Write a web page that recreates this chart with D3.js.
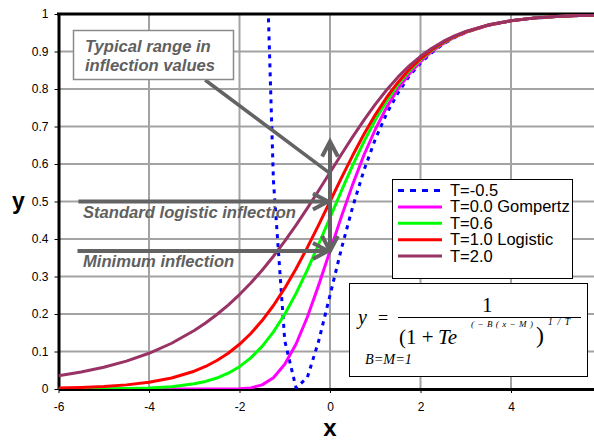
<!DOCTYPE html>
<html>
<head>
<meta charset="utf-8">
<script src="https://cdn.jsdelivr.net/npm/d3@7"></script>
<style>
  html, body { margin: 0; padding: 0; background: #fff; overflow: hidden; }
  svg { display: block; font-family: Arial, "Liberation Sans", sans-serif; }
</style>
</head>
<body>
<svg id="chart"></svg>
<script>
// values
const xValues = [-6, -5.5, -5, -4.5, -4, -3.5, -3, -2.75, -2.5, -2.25, -2, -1.75, -1.5, -1.25, -1, -0.75, -0.5, -0.25,
  0, 0.25, 0.5, 0.75, 1, 1.25, 1.5, 1.75, 2, 2.25, 2.5, 2.75, 3, 3.5, 4, 4.5, 5, 5.5, 6];

const tMinus05 = [null, null, null, null, null, null, null, null, null, null, null, null, 1.54, 0.555, 0.129, 0.003, 0.031, 0.128,
  0.25, 0.373, 0.485, 0.583, 0.666, 0.734, 0.789, 0.834, 0.869, 0.897, 0.920, 0.937, 0.951, 0.970, 0.982, 0.989, 0.993, 0.996, 0.998];
const tGompertz = [0, 0, 0, 0, 0, 0, 0, 0, 0, 0.0001, 0.0006, 0.003, 0.011, 0.030, 0.066, 0.120, 0.192, 0.277,
  0.368, 0.459, 0.545, 0.624, 0.692, 0.751, 0.800, 0.840, 0.873, 0.900, 0.921, 0.938, 0.951, 0.970, 0.982, 0.989, 0.993, 0.996, 0.998];
const t06 = [0.0001, 0.0002, 0.0006, 0.0013, 0.0028, 0.0063, 0.0138, 0.0202, 0.0293, 0.0421, 0.0595, 0.0830, 0.1136, 0.1523, 0.1994, 0.2550, 0.3178, 0.3860,
  0.4569, 0.5278, 0.5962, 0.6598, 0.7172, 0.7677, 0.8111, 0.8476, 0.8780, 0.9029, 0.9230, 0.9392, 0.9521, 0.9705, 0.9820, 0.9890, 0.9933, 0.9959, 0.9975];
const tLogistic = [0.0025, 0.0041, 0.0067, 0.0110, 0.0180, 0.0293, 0.0474, 0.0601, 0.0759, 0.0953, 0.1192, 0.1480, 0.1824, 0.2227, 0.2689, 0.3208, 0.3775, 0.4378,
  0.5, 0.5622, 0.6225, 0.6792, 0.7311, 0.7773, 0.8176, 0.8520, 0.8808, 0.9047, 0.9241, 0.9399, 0.9526, 0.9707, 0.9820, 0.9890, 0.9933, 0.9959, 0.9975];
const t20 = [0.0352, 0.0452, 0.0580, 0.0743, 0.0953, 0.1220, 0.1559, 0.1760, 0.1986, 0.2237, 0.2518, 0.2827, 0.3168, 0.3540, 0.3942, 0.4371, 0.4824, 0.5294,
  0.5774, 0.6253, 0.6722, 0.7171, 0.7590, 0.7973, 0.8315, 0.8615, 0.8871, 0.9088, 0.9268, 0.9416, 0.9536, 0.9711, 0.9822, 0.9891, 0.9933, 0.9959, 0.9975];

const seriesNames = ['T=-0.5', 'T=0.0 Gompertz', 'T=0.6', 'T=1.0 Logistic', 'T=2.0'];
const seriesValues = [tMinus05, tGompertz, t06, tLogistic, t20];
const seriesColors = ['#0000ff', '#ff00ff', '#00ff00', '#ff0000', '#993366'];

const xTicks = [-6, -4, -2, 0, 2, 4];
const yTicks = [0, 0.1, 0.2, 0.3, 0.4, 0.5, 0.6, 0.7, 0.8, 0.9, 1];
const xGrid = [-4, -2, 0, 2, 4, 6];

const svg = d3.select('#chart').attr('width', 594).attr('height', 441);

const x = d3.scaleLinear().domain([-6, 6]).range([58.5, 601.5]);
const y = d3.scaleLinear().domain([0, 1]).range([389, 14]);

svg.append('defs').append('clipPath').attr('id', 'plot-clip')
  .append('rect')
  .attr('x', x(-6)).attr('y', y(1))
  .attr('width', x(6) - x(-6)).attr('height', y(0) - y(1));

// grid
svg.append('g').selectAll('line.v')
  .data(xGrid).enter().append('line')
  .attr('x1', d => x(d)).attr('x2', d => x(d))
  .attr('y1', y(0)).attr('y2', y(1))
  .attr('stroke', '#a3a3a3').attr('stroke-width', 2);
svg.append('g').selectAll('line.h')
  .data(yTicks.filter(d => d > 0 && d < 1)).enter().append('line')
  .attr('x1', x(-6)).attr('x2', x(6))
  .attr('y1', d => y(d)).attr('y2', d => y(d))
  .attr('stroke', '#a3a3a3').attr('stroke-width', 2);

// axes
const yAxis = svg.append('g')
  .attr('transform', `translate(${x(-6)},0)`)
  .call(d3.axisLeft(y).tickValues(yTicks).tickSize(4).tickSizeOuter(0).tickPadding(6).tickFormat(d => String(d)));
const xAxis = svg.append('g')
  .attr('transform', `translate(0,${y(0)})`)
  .call(d3.axisBottom(x).tickValues(xTicks).tickSize(4).tickSizeOuter(0).tickPadding(9).tickFormat(d => String(d)));

[xAxis, yAxis].forEach(a => {
  a.select('.domain').attr('stroke', '#000').attr('stroke-width', 3);
  a.selectAll('.tick line').attr('stroke', '#000').attr('stroke-width', 1);
  a.selectAll('.tick text').attr('fill', '#000').style('font-size', '12px');
});

// top border
svg.append('line')
  .attr('x1', x(-6) - 1.5).attr('x2', x(6))
  .attr('y1', y(1)).attr('y2', y(1))
  .attr('stroke', '#000').attr('stroke-width', 3);

// curves
const line = d3.line()
  .defined(d => d[1] !== null)
  .x(d => x(d[0]))
  .y(d => y(d[1]));

const curves = svg.append('g').attr('clip-path', 'url(#plot-clip)');
seriesValues.forEach((vals, i) => {
  curves.append('path')
    .datum(xValues.map((xv, j) => [xv, vals[j]]))
    .attr('fill', 'none')
    .attr('stroke', seriesColors[i])
    .attr('stroke-width', 3)
    .attr('stroke-dasharray', i === 0 ? '4,5' : null)
    .attr('stroke-linejoin', 'round')
    .attr('d', line);
});

// annotations
const annGray = '#636363';
const ann = svg.append('g');

function chevron(tipX, tipY, angle) {
  const len = 17, spread = Math.PI / 6.5;
  const a1 = angle + Math.PI - spread, a2 = angle + Math.PI + spread;
  ann.append('path')
    .attr('d', `M${tipX + len * Math.cos(a1)},${tipY + len * Math.sin(a1)}L${tipX},${tipY}L${tipX + len * Math.cos(a2)},${tipY + len * Math.sin(a2)}`)
    .attr('fill', 'none').attr('stroke', annGray).attr('stroke-width', 4)
    .attr('stroke-linejoin', 'miter');
}

function arrowLine(x1, y1, x2, y2, w) {
  ann.append('line')
    .attr('x1', x1).attr('y1', y1).attr('x2', x2).attr('y2', y2)
    .attr('stroke', annGray).attr('stroke-width', w);
}

// diagonal from the "typical range" box
arrowLine(x(-2.76), y(0.824), x(0) - 1, y(0.577), 3.5);
// vertical range arrow
arrowLine(x(0), y(0.655), x(0), y(0.372), 4);
chevron(x(0), y(0.66), -Math.PI / 2);
chevron(x(0), y(0.368), Math.PI / 2);
// horizontal arrows
arrowLine(x(-5.56), y(0.5), x(0) - 3, y(0.5), 4);
chevron(x(0) - 2, y(0.5), 0);
arrowLine(x(-5.58), y(0.368), x(0) - 3, y(0.368), 4);
chevron(x(0) - 2, y(0.368), 0);

ann.append('rect')
  .attr('x', 73.5).attr('y', 30.5).attr('width', 160).attr('height', 49)
  .attr('fill', '#fff').attr('stroke', '#8a8a8a').attr('stroke-width', 1.5);

const annText = [
  { t: 'Typical range in', x: 85, y: 52 },
  { t: 'inflection values', x: 85, y: 71 },
  { t: 'Standard logistic inflection', x: 83, y: 218 },
  { t: 'Minimum inflection', x: 83, y: 267 }
];
ann.selectAll('text.ann').data(annText).enter().append('text')
  .attr('x', d => d.x).attr('y', d => d.y)
  .attr('fill', '#606060')
  .style('font-size', '16.6px').style('font-style', 'italic').style('font-weight', 'bold')
  .text(d => d.t);

// legend
const legend = svg.append('g');
legend.append('rect')
  .attr('x', 392.5).attr('y', 179.5).attr('width', 180).attr('height', 99)
  .attr('fill', '#fff').attr('stroke', '#000').attr('stroke-width', 1);
seriesNames.forEach((name, i) => {
  const by = 196 + i * 16.4;
  legend.append('line')
    .attr('x1', 398).attr('x2', 442)
    .attr('y1', by - 5.5).attr('y2', by - 5.5)
    .attr('stroke', seriesColors[i]).attr('stroke-width', 3)
    .attr('stroke-dasharray', i === 0 ? '6,6' : null);
  legend.append('text')
    .attr('x', 450).attr('y', by)
    .attr('fill', '#000').style('font-size', '16.5px')
    .text(name);
});

// formula box
const fb = svg.append('g').style('font-family', '"Liberation Serif", "Times New Roman", serif').style('font-style', 'italic');
fb.append('rect')
  .attr('x', 349.5).attr('y', 283.5).attr('width', 238).attr('height', 93)
  .attr('fill', '#fff').attr('stroke', '#000').attr('stroke-width', 1);
fb.append('text').attr('x', 358).attr('y', 324).style('font-size', '20px').text('y');
fb.append('text').attr('x', 378).attr('y', 324).style('font-size', '18px').style('font-style', 'normal').text('=');
fb.append('line').attr('x1', 398).attr('x2', 581).attr('y1', 317.5).attr('y2', 317.5)
  .attr('stroke', '#000').attr('stroke-width', 1);
fb.append('text').attr('x', 482).attr('y', 312).style('font-size', '21px').style('font-style', 'normal').text('1');
fb.append('text').attr('x', 399).attr('y', 344).style('font-size', '21px').style('font-style', 'normal').text('(1 +');
fb.append('text').attr('x', 438).attr('y', 344).style('font-size', '21px').text('Te');
fb.append('text').attr('x', 471).attr('y', 327).style('font-size', '9px')
  .attr('textLength', 62).attr('lengthAdjust', 'spacing').text('( − B ( x − M )');
fb.append('text').attr('x', 536).attr('y', 343).style('font-size', '24px').style('font-style', 'normal').text(')');
fb.append('text').attr('x', 548).attr('y', 325).style('font-size', '9.5px')
  .attr('textLength', 22).attr('lengthAdjust', 'spacing').text('1 / T');
fb.append('text').attr('x', 365).attr('y', 364).style('font-size', '14px')
  .attr('textLength', 47).attr('lengthAdjust', 'spacingAndGlyphs').text('B=M=1');

// axis titles
svg.append('text').attr('x', 12).attr('y', 209)
  .style('font-size', '23px').style('font-weight', 'bold').text('y');
svg.append('text').attr('x', 330).attr('y', 436).attr('text-anchor', 'middle')
  .style('font-size', '24px').style('font-weight', 'bold').text('x');
</script>
</body>
</html>
